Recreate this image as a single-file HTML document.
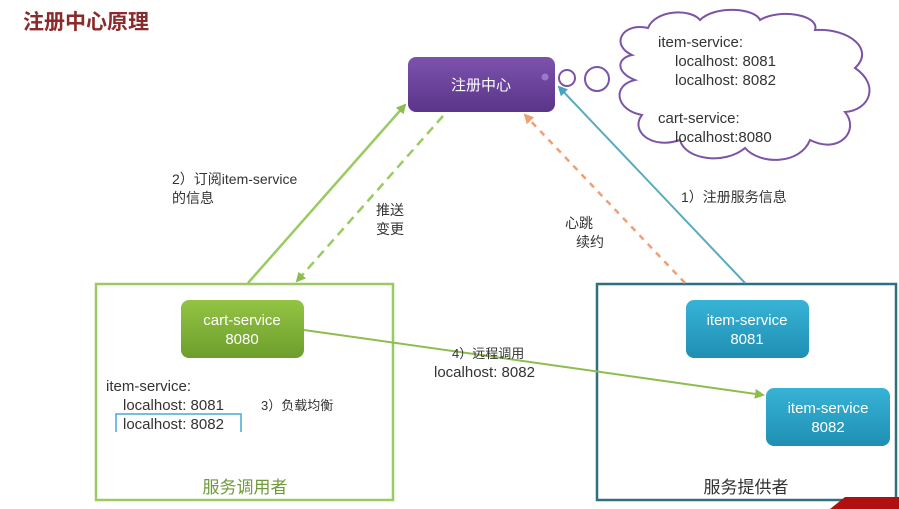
<!DOCTYPE html>
<html><head><meta charset="utf-8"><style>
html,body{margin:0;padding:0;background:#fff;}
svg{display:block;}
text{font-family:"Liberation Sans","Noto Sans CJK SC",sans-serif;}
</style></head><body>
<svg width="899" height="509" viewBox="0 0 899 509" xmlns="http://www.w3.org/2000/svg">
<defs>
<linearGradient id="gp" x1="0" y1="0" x2="0" y2="1"><stop offset="0" stop-color="#7d52ad"/><stop offset="1" stop-color="#5a3589"/></linearGradient>
<linearGradient id="gg" x1="0" y1="0" x2="0" y2="1"><stop offset="0" stop-color="#93c443"/><stop offset="1" stop-color="#6d9e2c"/></linearGradient>
<linearGradient id="gb" x1="0" y1="0" x2="0" y2="1"><stop offset="0" stop-color="#37b3d6"/><stop offset="1" stop-color="#1f8fb3"/></linearGradient>
<marker id="ag" markerWidth="10" markerHeight="10" refX="8" refY="5" orient="auto" markerUnits="userSpaceOnUse"><path d="M0,0 L10,5 L0,10 z" fill="#8dbd4e"/></marker>
<marker id="ao" markerWidth="10" markerHeight="10" refX="8" refY="5" orient="auto" markerUnits="userSpaceOnUse"><path d="M0,0 L10,5 L0,10 z" fill="#f0a070"/></marker>
<marker id="ab" markerWidth="10" markerHeight="10" refX="8" refY="5" orient="auto" markerUnits="userSpaceOnUse"><path d="M0,0 L10,5 L0,10 z" fill="#4aa3bd"/></marker>
</defs>
<text x="23" y="29" font-size="21" font-weight="bold" fill="#8b2a2a">注册中心原理</text>

<!-- boxes -->
<rect x="96" y="284" width="297" height="216" fill="none" stroke="#9acb63" stroke-width="2.5"/>
<rect x="597" y="284" width="299" height="216" fill="none" stroke="#2f6f80" stroke-width="2.5"/>
<text x="245" y="493" font-size="17" fill="#6f9a3a" text-anchor="middle">服务调用者</text>
<text x="746" y="493" font-size="17" fill="#333" text-anchor="middle">服务提供者</text>

<!-- connectors -->
<line x1="248" y1="283" x2="405" y2="105" stroke="#9acb63" stroke-width="2.5" marker-end="url(#ag)"/>
<line x1="443" y1="116" x2="297" y2="281" stroke="#9acb63" stroke-width="2.5" stroke-dasharray="9,6" marker-end="url(#ag)"/>
<line x1="685" y1="283" x2="525" y2="115" stroke="#f0a070" stroke-width="2.5" stroke-dasharray="6,6" marker-end="url(#ao)"/>
<line x1="745" y1="283" x2="559" y2="87" stroke="#5aabc0" stroke-width="2" marker-end="url(#ab)"/>
<line x1="304" y1="330" x2="763" y2="395" stroke="#8dbd4e" stroke-width="2" marker-end="url(#ag)"/>

<!-- registry -->
<rect x="408" y="57" width="147" height="55" rx="8" fill="url(#gp)"/>
<circle cx="545" cy="77" r="3.5" fill="#9b78c8"/>
<text x="481" y="90" font-size="15" fill="#fff" text-anchor="middle">注册中心</text>
<circle cx="567" cy="78" r="8" fill="#fff" stroke="#7b54a8" stroke-width="2"/>
<circle cx="597" cy="79" r="12" fill="#fff" stroke="#7b54a8" stroke-width="2"/>
<path d="M632,55 C610,45 622,22 648,28 C655,10 690,8 700,20 C715,5 755,8 760,20 C780,8 820,15 815,30 C850,28 875,50 855,68 C880,85 870,110 845,112 C860,130 840,155 810,140 C800,165 760,165 745,148 C725,165 685,160 680,140 C650,150 630,130 642,115 C615,110 612,85 635,80 C615,72 617,58 632,55 Z" fill="#fff" stroke="#7b54a8" stroke-width="2"/>
<text font-size="15" fill="#333"><tspan x="658" y="47">item-service:</tspan><tspan x="675" y="66">localhost: 8081</tspan><tspan x="675" y="85">localhost: 8082</tspan><tspan x="658" y="123">cart-service:</tspan><tspan x="675" y="142">localhost:8080</tspan></text>

<!-- nodes -->
<rect x="181" y="300" width="123" height="58" rx="8" fill="url(#gg)"/>
<text x="242" y="325" font-size="15" fill="#fff" text-anchor="middle">cart-service</text>
<text x="242" y="344" font-size="15" fill="#fff" text-anchor="middle">8080</text>
<rect x="686" y="300" width="123" height="58" rx="8" fill="url(#gb)"/>
<text x="747" y="325" font-size="15" fill="#fff" text-anchor="middle">item-service</text>
<text x="747" y="344" font-size="15" fill="#fff" text-anchor="middle">8081</text>
<rect x="766" y="388" width="124" height="58" rx="8" fill="url(#gb)"/>
<text x="828" y="413" font-size="15" fill="#fff" text-anchor="middle">item-service</text>
<text x="828" y="432" font-size="15" fill="#fff" text-anchor="middle">8082</text>

<!-- labels -->
<text font-size="14" fill="#333"><tspan x="172" y="184">2）订阅item-service</tspan><tspan x="172" y="203">的信息</tspan></text>
<text font-size="14" fill="#333"><tspan x="376" y="215">推送</tspan><tspan x="376" y="234">变更</tspan></text>
<text font-size="14" fill="#333"><tspan x="565" y="228">心跳</tspan><tspan x="576" y="247">续约</tspan></text>
<text x="681" y="202" font-size="14" fill="#333">1）注册服务信息</text>
<text x="452" y="358" font-size="13" fill="#333">4）远程调用</text>
<text x="434" y="377" font-size="15" fill="#333">localhost: 8082</text>
<text font-size="15" fill="#333"><tspan x="106" y="391">item-service:</tspan><tspan x="123" y="410">localhost: 8081</tspan><tspan x="123" y="429">localhost: 8082</tspan></text>
<path d="M116,432 V414 H241 V432" fill="none" stroke="#4aa8d0" stroke-width="1.5"/>
<text x="261" y="410" font-size="13" fill="#333">3）负载均衡</text>

<path d="M830,509 L845,497 L899,497 L899,509 Z" fill="#b01010"/>
</svg>
</body></html>
